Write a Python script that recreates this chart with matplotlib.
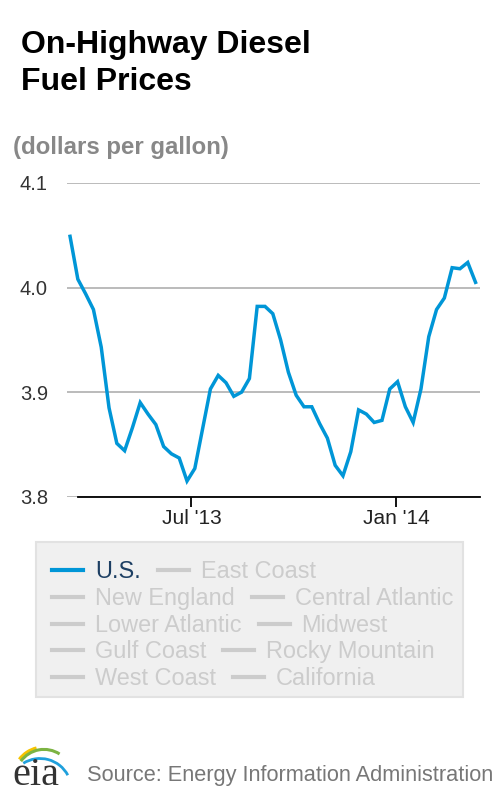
import matplotlib
matplotlib.use('Agg')
import matplotlib.pyplot as plt
import matplotlib.dates as mdates
from matplotlib.patches import Rectangle, Arc
from matplotlib.lines import Line2D
import numpy as np
import pandas as pd

plt.rcParams['font.family'] = ['Liberation Sans', 'DejaVu Sans']

# weekly U.S. on-highway diesel price, dollars per gallon
dates = pd.date_range('2013-03-14', periods=53, freq='7D')
us_price = [4.049, 4.008, 3.994, 3.979, 3.943, 3.885, 3.851, 3.844, 3.866, 3.890,
            3.879, 3.869, 3.848, 3.841, 3.837, 3.815, 3.827, 3.865, 3.903, 3.916,
            3.909, 3.896, 3.900, 3.913, 3.982, 3.982, 3.975, 3.950, 3.919, 3.897,
            3.886, 3.886, 3.870, 3.856, 3.830, 3.820, 3.843, 3.883, 3.879, 3.871,
            3.873, 3.903, 3.910, 3.886, 3.871, 3.903, 3.953, 3.979, 3.990, 4.019,
            4.018, 4.024, 4.005]

y_ticks = [3.8, 3.9, 4.0, 4.1]
x_ticks = ['2013-07-01', '2014-01-01']
x_ticklabels = ["Jul '13", "Jan '14"]

regions = ['U.S.', 'East Coast', 'New England', 'Central Atlantic', 'Lower Atlantic',
           'Midwest', 'Gulf Coast', 'Rocky Mountain', 'West Coast', 'California']
active = ['U.S.']

W, H = 500, 800
def fx(x):
    return x / W
def fy(y):
    return 1 - y / H

fig = plt.figure(figsize=(5, 8), dpi=100)
ax = fig.add_axes([fx(66.7), fy(496.7), (480 - 66.7) / W, (496.7 - 183) / H])

ax.plot(dates, us_price, color='#0096d7', lw=2.5, solid_joinstyle='miter', zorder=3)

ax.set_ylim(3.8, 4.1)
ax.set_yticks(y_ticks)
ax.set_yticklabels(['%.1f' % v for v in y_ticks])
ax.set_xlim(dates[0] - pd.Timedelta(days=3), dates[-1] + pd.Timedelta(days=4))
ax.set_xticks(pd.to_datetime(x_ticks))
ax.set_xticklabels(x_ticklabels)

ax.grid(axis='y', color='#bbbbbb', lw=1.4)
ax.set_axisbelow(True)
for s in ['top', 'right', 'left']:
    ax.spines[s].set_visible(False)
ax.spines['bottom'].set_color('black')
ax.spines['bottom'].set_linewidth(1.3)
ax.spines['bottom'].set_zorder(4)
ax.spines['bottom'].set_bounds(mdates.date2num(dates[1]), ax.get_xlim()[1])
ax.tick_params(axis='y', length=0, pad=13.5, labelsize=14.5, labelcolor='#333333')
ax.tick_params(axis='x', length=7, width=1.3, color='black', pad=1.5,
               labelsize=15, labelcolor='#222222')

# title block
fig.text(fx(21), fy(52.7), 'On-Highway Diesel', fontsize=23, fontweight='bold',
         color='black', va='baseline')
fig.text(fx(21), fy(90), 'Fuel Prices', fontsize=23, fontweight='bold',
         color='black', va='baseline')
fig.text(fx(13), fy(154), '(dollars per gallon)', fontsize=17.3, fontweight='bold',
         color='#888888', va='baseline')

# legend box
fig.add_artist(Rectangle((fx(36), fy(697)), (463 - 36) / W, (697 - 542) / H,
                         transform=fig.transFigure, facecolor='#f0f0f0',
                         edgecolor='#e2e2e2', lw=1.5))
renderer = fig.canvas.get_renderer()
rows = [regions[i:i + 2] for i in range(0, len(regions), 2)]
for r, row in enumerate(rows):
    base = 578.3 + r * 26.7
    x = 52
    for name in row:
        on = name in active
        fig.add_artist(Line2D([fx(x), fx(x + 31)], [fy(base - 8), fy(base - 8)],
                              transform=fig.transFigure, lw=3,
                              color='#0096d7' if on else '#cccccc'))
        t = fig.text(fx(x + 43), fy(base), name, fontsize=16.9, va='baseline',
                     color='#1d3f63' if on else '#cccccc')
        bb = t.get_window_extent(renderer)
        x = bb.x1 + 17

# eia logo
lax = fig.add_axes([fx(6), fy(798), 66 / W, 60 / H])
lax.set_xlim(6, 72)
lax.set_ylim(2, 62)
lax.axis('off')
lax.add_patch(Arc((44, 22), 62, 62, theta1=104, theta2=143, color='#f5c300', lw=2.2))
lax.add_patch(Arc((44, 22), 57.2, 57.2, theta1=57, theta2=144, color='#7cb342', lw=2.2))
lax.add_patch(Arc((40, 10), 63, 63, theta1=28, theta2=122, color='#1fa0dc', lw=2.0))
fig.text(fx(12.5), fy(785), 'eia', fontsize=29, family='Liberation Serif',
         color='#333333', va='baseline')

fig.text(fx(87), fy(781), 'Source: Energy Information Administration', fontsize=15.7,
         color='#777777', va='baseline')

fig.savefig('out.png', dpi=100)
